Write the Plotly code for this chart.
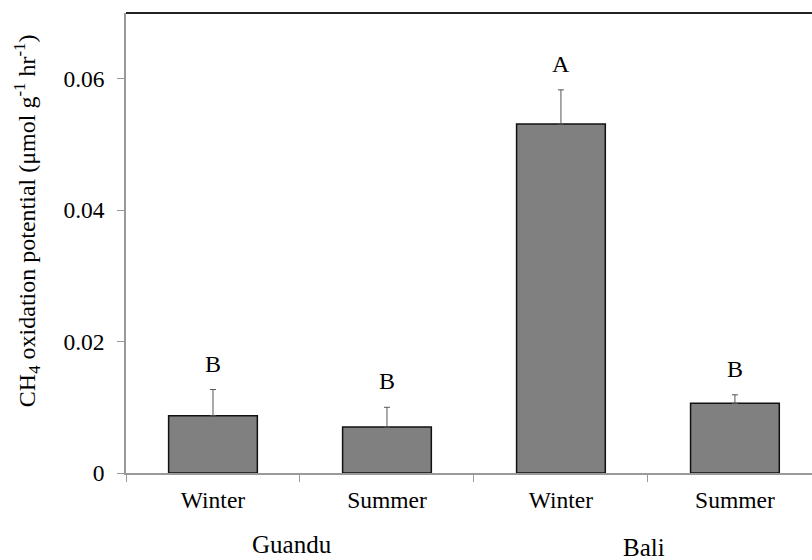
import plotly.graph_objects as go

# Methane oxidation potential by site and season
sites = ["Guandu", "Guandu", "Bali", "Bali"]
seasons = ["Winter", "Summer", "Winter", "Summer"]
means = [0.0087, 0.0070, 0.0531, 0.0106]
errors = [0.0040, 0.0030, 0.0052, 0.0013]
letters = ["B", "B", "A", "B"]
group_names = ["Guandu", "Bali"]

y_ticks = [0, 0.02, 0.04, 0.06]
y_tick_text = ["0", "0.02", "0.04", "0.06"]

FONT = "Liberation Serif"
FS_TICK = 23.5
FS_LETTER = 24
FS_GROUP = 25
FS_TITLE = 24

cats = [f"{s} {t}" for s, t in zip(sites, seasons)]

fig = go.Figure()
fig.add_trace(go.Bar(
    x=cats,
    y=means,
    marker=dict(color="#808080", line=dict(color="#111111", width=1.5)),
    error_y=dict(type="data", array=errors, arrayminus=[0] * len(errors),
                 symmetric=False, color="#555555", thickness=1, width=3),
    showlegend=False,
))

# significance letters above each error bar
for c, m, e, l in zip(cats, means, errors, letters):
    fig.add_annotation(x=c, y=m + e, text=l, showarrow=False, yshift=26,
                       xanchor="center", yanchor="middle",
                       font=dict(family=FONT, size=FS_LETTER, color="black"))

# site names under each pair of bars
fig.add_annotation(x=0.5, xref="x", y=-0.156, yref="paper", text=group_names[0],
                   showarrow=False, xshift=-8, xanchor="center", yanchor="middle",
                   font=dict(family=FONT, size=FS_GROUP, color="black"))
fig.add_annotation(x=2.5, xref="x", y=-0.162, yref="paper", text=group_names[1],
                   showarrow=False, xshift=-4, xanchor="center", yanchor="middle",
                   font=dict(family=FONT, size=FS_GROUP, color="black"))

# y-axis title
fig.add_annotation(x=-0.144, xref="paper", y=0.548, yref="paper",
                   text="CH<sub>4</sub> oxidation potential (μmol g<sup>-1</sup> hr<sup>-1</sup>)",
                   textangle=-90, showarrow=False, xanchor="center", yanchor="middle",
                   font=dict(family=FONT, size=FS_TITLE, color="black"))

# top frame line
fig.add_shape(type="line", xref="paper", yref="paper", x0=0, x1=1, y0=1, y1=1,
              line=dict(color="#222222", width=2))

fig.update_layout(
    width=812, height=560,
    margin=dict(l=126, r=0, t=13, b=87),
    paper_bgcolor="white", plot_bgcolor="white",
    bargap=0.49,
    font=dict(family=FONT, size=FS_TICK, color="black"),
    xaxis=dict(
        type="category",
        categoryorder="array", categoryarray=cats,
        tickvals=cats, ticktext=seasons,
        tickson="boundaries",
        range=[-0.5, 3.443],
        ticks="outside", ticklen=7, tickcolor="#999999", tickwidth=1,
        ticklabelstandoff=5,
        showline=True, linecolor="#999999", linewidth=1.5,
        showgrid=False, zeroline=False,
        tickfont=dict(family=FONT, size=FS_TICK, color="black"),
    ),
    yaxis=dict(
        range=[0, 0.07],
        tickvals=y_ticks, ticktext=y_tick_text,
        ticks="outside", ticklen=7, tickcolor="#999999", tickwidth=1,
        ticklabelstandoff=8,
        showline=True, linecolor="#999999", linewidth=1.5,
        showgrid=False, zeroline=False,
        tickfont=dict(family=FONT, size=FS_TICK, color="black"),
    ),
)

fig.write_html("out.html")
